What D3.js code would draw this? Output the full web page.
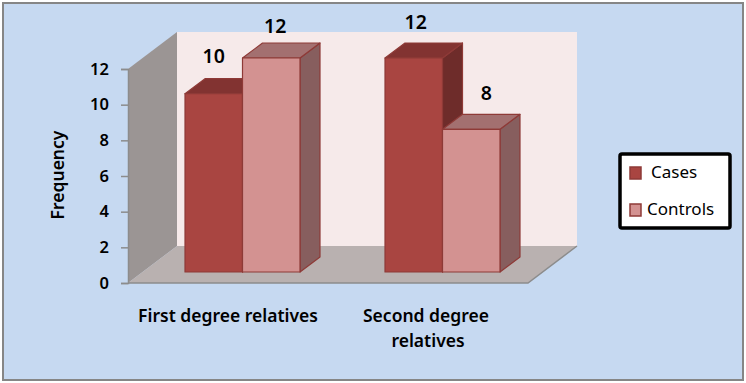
<!DOCTYPE html>
<html>
<head>
<meta charset="utf-8">
<script src="https://cdn.jsdelivr.net/npm/d3@7"></script>
<style>
html, body { margin: 0; padding: 0; background: #fff; }
svg { display: block; }
text { font-family: "Noto Sans", "Open Sans", sans-serif; fill: #000; }
</style>
</head>
<body>
<script>
const categories = ["First degree relatives", "Second degree relatives"];
const seriesNames = ["Cases", "Controls"];
const cases = [10, 12];
const controls = [12, 8];
const yTicks = [0, 2, 4, 6, 8, 10, 12];

const W = 746, H = 383;
const wallDx = 49, wallDy = -37;   // depth of the chart box
const barDx = 20, barDy = -15;     // depth of a bar
const lift = { x: 14.5, y: -11 };  // bars stand in the middle of the floor
const barW = 57.5;

// value labels were dragged by hand in the original, [dx, dy] from the bar top
const labelNudge = {
    Cases: [[0, -16], [2, -14]],
    Controls: [[4, -10], [15, -14]]
};

const palette = {
    Cases: { front: "#a94541", top: "#823331", side: "#6e2c2a", stroke: "#8e3a37" },
    Controls: { front: "#d39291", top: "#a37070", side: "#875e5e", stroke: "#8e3a37" }
};

const x = d3.scaleBand().domain(categories).range([128, 528]);
const y = d3.scaleLinear().domain([0, 12]).range([283, 69]);

const svg = d3.select("body").append("svg").attr("width", W).attr("height", H);

svg.append("rect").attr("x", 3).attr("y", 3).attr("width", 740).attr("height", 377)
    .attr("fill", "#c6d9f1").attr("stroke", "#868686").attr("stroke-width", 2);

const poly = pts => pts.map(p => p.join(",")).join(" ");
const x0 = x.range()[0], x1 = x.range()[1], yBase = y(0), yTop = y(12);

// box
svg.append("polygon").attr("fill", "#f6eaea")
    .attr("points", poly([[x0 + wallDx, yTop + wallDy], [x1 + wallDx, yTop + wallDy], [x1 + wallDx, yBase + wallDy], [x0 + wallDx, yBase + wallDy]]));
svg.append("polygon").attr("fill", "#9b9594")
    .attr("points", poly([[x0, yTop], [x0 + wallDx, yTop + wallDy], [x0 + wallDx, yBase + wallDy], [x0, yBase]]));
svg.append("polygon").attr("fill", "#b9b1b0")
    .attr("points", poly([[x0, yBase], [x1, yBase], [x1 + wallDx, yBase + wallDy], [x0 + wallDx, yBase + wallDy]]));
svg.append("polyline").attr("fill", "none").attr("stroke", "#8c8c8c").attr("stroke-width", 1.5)
    .attr("points", poly([[x0, yBase], [x1, yBase], [x1 + wallDx, yBase + wallDy]]));

// y axis
const axis = svg.append("g").attr("transform", `translate(${x0},0)`)
    .call(d3.axisLeft(y).tickValues(yTicks).tickSize(7).tickPadding(12).tickFormat(d3.format("d")));
axis.selectAll("path, line").attr("stroke", "#8c8c8c").attr("stroke-width", 1.5);
axis.selectAll("text").style("font-size", "16.5px").style("font-weight", 600).style("font-family", "'Noto Sans'").attr("fill", "#000");

// bars
function drawBar(cat, name, value, index, catIndex) {
    const c = palette[name];
    const l = x(cat) + x.bandwidth() / 2 + lift.x + (index - 1) * barW;
    const r = l + barW;
    const b = yBase + lift.y;
    const t = b - (yBase - y(value));
    const g = svg.append("g").attr("stroke", c.stroke).attr("stroke-width", 1.2).attr("stroke-linejoin", "round");
    g.append("polygon").attr("fill", c.side)
        .attr("points", poly([[r, t], [r + barDx, t + barDy], [r + barDx, b + barDy], [r, b]]));
    g.append("polygon").attr("fill", c.top)
        .attr("points", poly([[l, t], [l + barDx, t + barDy], [r + barDx, t + barDy], [r, t]]));
    g.append("rect").attr("fill", c.front).attr("x", l).attr("y", t).attr("width", barW).attr("height", b - t);
    const nudge = labelNudge[name][catIndex];
    svg.append("text").attr("class", "val")
        .attr("x", (l + r) / 2 + nudge[0])
        .attr("y", t + barDy + nudge[1]).attr("text-anchor", "middle")
        .style("font-size", "19.5px").style("font-weight", 600).text(value);
}
categories.forEach((cat, i) => {
    drawBar(cat, "Cases", cases[i], 0, i);
    drawBar(cat, "Controls", controls[i], 1, i);
});

// axis titles and category labels
const labelStyle = sel => sel.attr("text-anchor", "middle").style("font-size", "17.5px").style("font-weight", 600);

svg.append("text").attr("transform", "translate(64,175) rotate(-90)").call(labelStyle).text("Frequency");

svg.append("text").attr("x", x(categories[0]) + x.bandwidth() / 2).attr("y", 321.5).call(labelStyle).text(categories[0]);
svg.append("text").attr("x", x(categories[1]) + x.bandwidth() / 2 - 2).attr("y", 321.5).call(labelStyle).text("Second degree");
svg.append("text").attr("x", x(categories[1]) + x.bandwidth() / 2).attr("y", 346.5).call(labelStyle).text("relatives");

// legend
svg.append("rect").attr("x", 620).attr("y", 154).attr("width", 110).attr("height", 74).attr("rx", 2)
    .attr("fill", "#fff").attr("stroke", "#000").attr("stroke-width", 3.5);
seriesNames.forEach((name, i) => {
    const c = palette[name];
    svg.append("rect").attr("x", 630).attr("y", 167 + i * 37).attr("width", 11).attr("height", 12)
        .attr("fill", c.front).attr("stroke", c.stroke).attr("stroke-width", 1.5);
    svg.append("text").attr("x", i === 0 ? 651 : 647).attr("y", 178 + i * 37)
        .style("font-size", "17px").text(name);
});
</script>
</body>
</html>
